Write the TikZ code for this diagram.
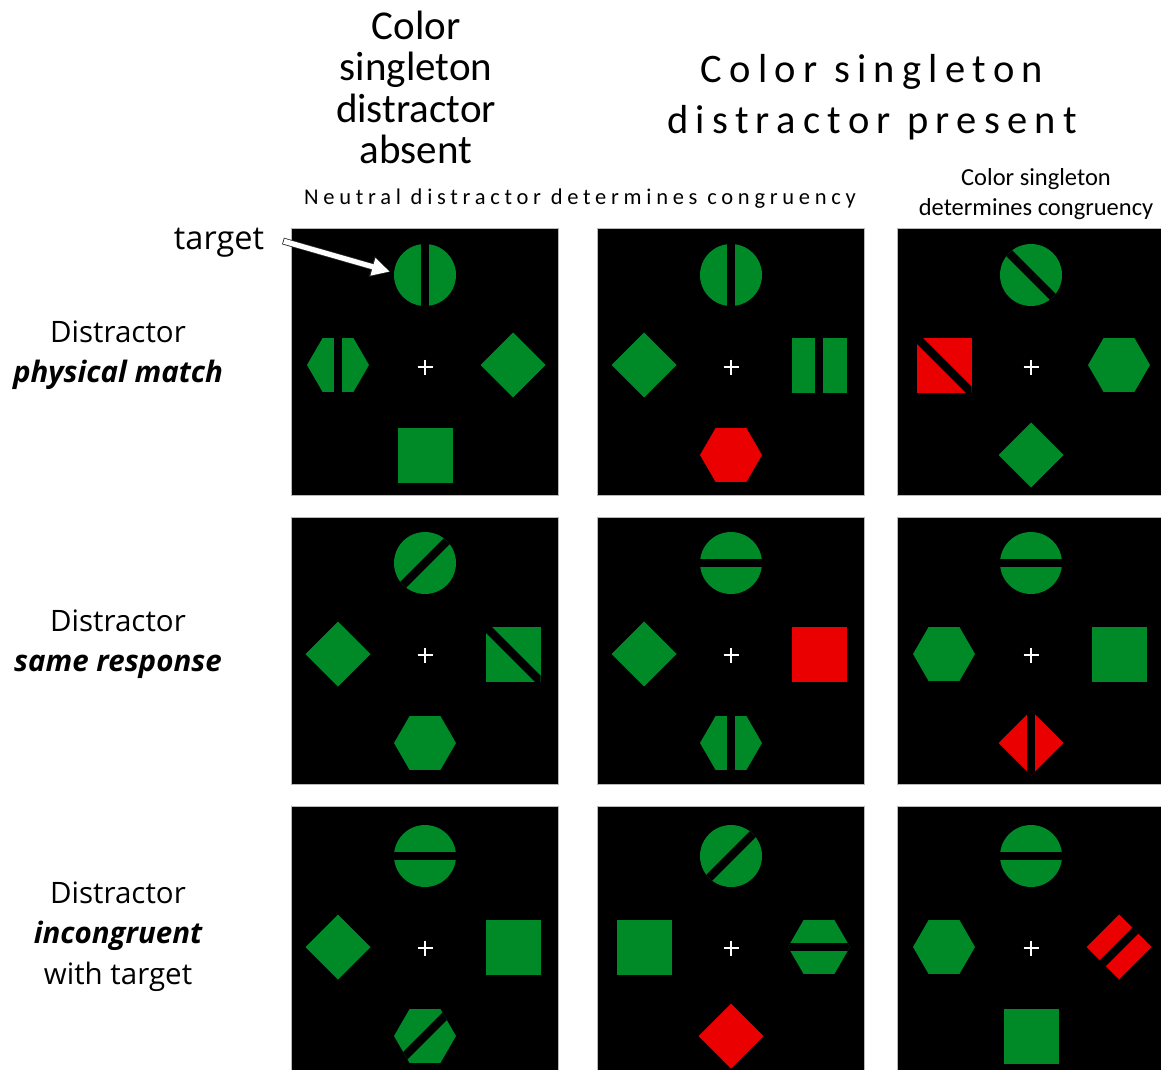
\documentclass[tikz,border=0pt]{standalone}
\usepackage{fontspec}
\setmainfont{Carlito}
\newfontfamily\osans{Open Sans}
\newfontfamily\carsp[LetterSpace=18]{Carlito}
\newfontfamily\carspb[LetterSpace=21]{Carlito}
\definecolor{sg}{RGB}{0,137,39}
\definecolor{sr}{RGB}{234,0,0}
\usetikzlibrary{arrows.meta,calc}
\newcommand\stShape[4]{\begin{scope}[shift={(#1)}]\fill[#2] #4;%
 \ifx\relax#3\relax\else\begin{scope}\clip #4;\fill[black,rotate=#3] (-45,-4.2) rectangle (45,4.2);\end{scope}\fi
 \end{scope}}
\newcommand\stCirc[3]{\stShape{#1}{#2}{#3}{(0,0) circle[radius=31]}}
\newcommand\stHex[3]{\stShape{#1}{#2}{#3}{(0:31) -- (60:31) -- (120:31) -- (180:31) -- (240:31) -- (300:31) -- cycle}}
\newcommand\stSq[3]{\stShape{#1}{#2}{#3}{(-27.5,-27.5) rectangle (27.5,27.5)}}
\newcommand\stDiam[3]{\stShape{#1}{#2}{#3}{(32.5,0) -- (0,32.5) -- (-32.5,0) -- (0,-32.5) -- cycle}}
\newcommand\fixcross[1]{\draw[white,line width=2.6pt] ($(#1)+(-7.5,0)$) -- ($(#1)+(7.5,0)$) ($(#1)+(0,-7.5)$) -- ($(#1)+(0,7.5)$);}
\begin{document}
\begin{tikzpicture}[x=1pt,y=-1pt,
  panelbox/.style={fill=black,draw=gray!55,line width=0.7pt,minimum width=267pt,minimum height=267pt,inner sep=0pt,anchor=north west},
  bigtitle/.style={anchor=base,inner sep=0pt,font=\fontsize{41}{41}\selectfont},
  spacedtitle/.style={anchor=base,inner sep=0pt,font=\carsp\fontsize{40.5}{40.5}\selectfont},
  subtitle/.style={anchor=base,inner sep=0pt,font=\fontsize{24.5}{24.5}\selectfont},
  rowlabel/.style={anchor=base,inner sep=0pt,font=\osans\fontsize{29.5}{29.5}\selectfont},
  rowem/.style={anchor=base,inner sep=0pt,font=\osans\bfseries\itshape\fontsize{29.5}{29.5}\selectfont}]
\useasboundingbox (0,0) rectangle (1161,1070);
\fill[white] (0,0) rectangle (1161,1070);
% headings
\node[bigtitle] (t1a) at (416,40) {Color};
\node[bigtitle] (t1b) at (416,81) {singleton};
\node[bigtitle] (t1c) at (416,122) {distractor};
\node[bigtitle] (t1d) at (416,163) {absent};
\node[spacedtitle] (t2a) at (872,83) {Color singleton};
\node[spacedtitle] (t2b) at (872,134) {distractor present};
\node[anchor=base,inner sep=0pt,font=\carspb\fontsize{22.5}{22.5}\selectfont] (neu) at (580,204) {Neutral distractor determines congruency};
\node[subtitle] (cs1) at (1036,185) {Color singleton};
\node[subtitle] (cs2) at (1036,215) {determines congruency};
% row labels
\node[rowlabel] (r1a) at (118,342) {Distractor};
\node[rowem] (r1b) at (118,382) {physical match};
\node[rowlabel] (r2a) at (118,631) {Distractor};
\node[rowem] (r2b) at (118,671) {same response};
\node[rowlabel] (r3a) at (118,903) {Distractor};
\node[rowem] (r3b) at (118,943) {incongruent};
\node[rowlabel] (r3c) at (118,984) {with target};
\node[anchor=base,inner sep=0pt,font=\osans\fontsize{32.5}{32.5}\selectfont] (tlab) at (219,249) {target};
\begin{scope}
\clip (0,0) rectangle (1161,1070);
% row 1
\begin{scope}[shift={(291,228)}]
 \node[panelbox] (p11) at (0,0) {};
 \stCirc{134,47}{sg}{90}
 \stHex{47,137}{sg}{90}
 \stDiam{222,137}{sg}{}
 \stSq{134,227}{sg}{}
 \fixcross{134,139}
 \coordinate (tgt) at (100,44);
\end{scope}
\begin{scope}[shift={(597,228)}]
 \node[panelbox] (p12) at (0,0) {};
 \stCirc{134,47}{sg}{90}
 \stDiam{47,137}{sg}{}
 \stSq{222,137}{sg}{90}
 \stHex{134,227}{sr}{}
 \fixcross{134,139}
\end{scope}
\begin{scope}[shift={(897,228)}]
 \node[panelbox] (p13) at (0,0) {};
 \stCirc{134,47}{sg}{-45}
 \stSq{47,137}{sr}{-45}
 \stHex{222,137}{sg}{}
 \stDiam{134,227}{sg}{}
 \fixcross{134,139}
\end{scope}
% row 2
\begin{scope}[shift={(291,517)}]
 \node[panelbox] (p21) at (0,0) {};
 \stCirc{134,46}{sg}{45}
 \stDiam{47,137}{sg}{}
 \stSq{222,137}{sg}{-45}
 \stHex{134,226}{sg}{}
 \fixcross{134,138}
\end{scope}
\begin{scope}[shift={(597,517)}]
 \node[panelbox] (p22) at (0,0) {};
 \stCirc{134,46}{sg}{0}
 \stDiam{47,137}{sg}{}
 \stSq{222,137}{sr}{}
 \stHex{134,226}{sg}{90}
 \fixcross{134,138}
\end{scope}
\begin{scope}[shift={(897,517)}]
 \node[panelbox] (p23) at (0,0) {};
 \stCirc{134,46}{sg}{0}
 \stHex{47,137}{sg}{}
 \stSq{222,137}{sg}{}
 \stDiam{134,226}{sr}{90}
 \fixcross{134,138}
\end{scope}
% row 3
\begin{scope}[shift={(291,806)}]
 \node[panelbox] (p31) at (0,0) {};
 \stCirc{134,50}{sg}{0}
 \stDiam{47,141}{sg}{}
 \stSq{222,141}{sg}{}
 \stHex{134,230}{sg}{45}
 \fixcross{134,142}
\end{scope}
\begin{scope}[shift={(597,806)}]
 \node[panelbox] (p32) at (0,0) {};
 \stCirc{134,50}{sg}{45}
 \stSq{47,141}{sg}{}
 \stHex{222,141}{sg}{0}
 \stDiam{134,230}{sr}{}
 \fixcross{134,142}
\end{scope}
\begin{scope}[shift={(897,806)}]
 \node[panelbox] (p33) at (0,0) {};
 \stCirc{134,50}{sg}{0}
 \stHex{47,141}{sg}{}
 \stDiam{222,141}{sr}{45}
 \stSq{134,230}{sg}{}
 \fixcross{134,142}
\end{scope}
\end{scope}
% arrow
\coordinate (arrS) at (283,241);
\draw[line width=6.8pt, gray!30!black, -{Triangle[length=20pt,width=20pt]}] (arrS) -- (tgt);
\draw[line width=5.2pt, white, shorten >=1.3pt, shorten <=0.8pt, -{Triangle[length=17.5pt,width=17pt]}] (arrS) -- (tgt);
\end{tikzpicture}
\end{document}
